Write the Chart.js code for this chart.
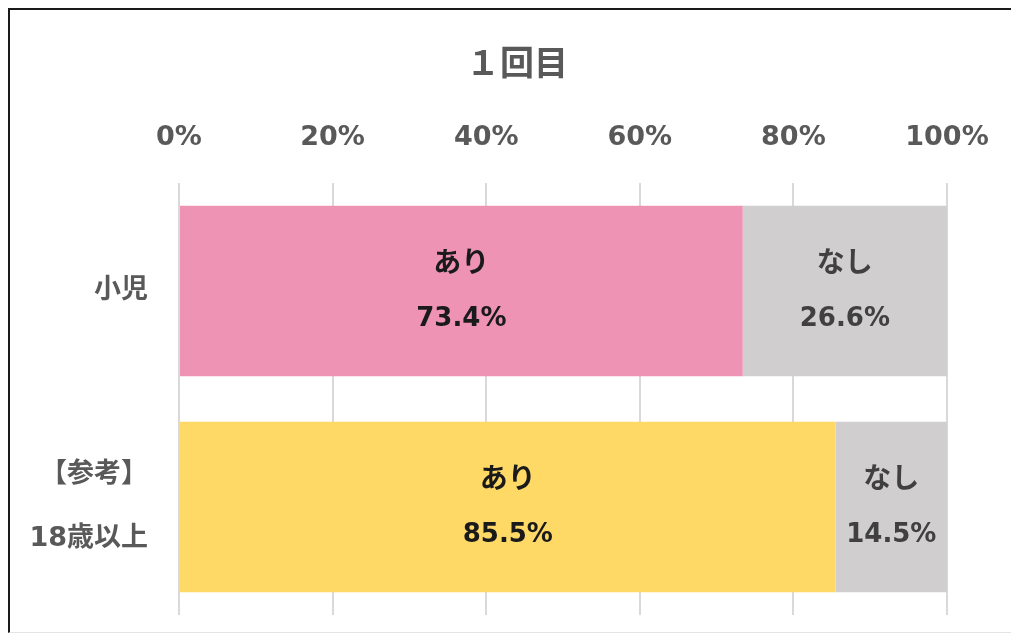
<!DOCTYPE html>
<html>
<head>
<meta charset="utf-8">
<script src="https://cdn.jsdelivr.net/npm/chart.js@4"></script>
<style>
  html, body { margin: 0; padding: 0; background: #fff; overflow: hidden; }
  #wrap { position: relative; width: 1011px; height: 638px; }
  #frame {
    position: absolute; left: 8px; top: 8px; width: 1100px; height: 622px;
    border-left: 2px solid #1a1a1a; border-top: 2px solid #1a1a1a;
    border-bottom: 1px solid #e4e4e4; pointer-events: none;
  }
</style>
</head>
<body>
<div id="wrap">
  <canvas id="chart" width="1011" height="638"></canvas>
  <div id="frame"></div>
</div>
<script>
//Data
const categories = [["小児"], ["【参考】", "18歳以上"]];
const ariValues = [73.4, 85.5];
const nashiValues = [26.6, 14.5];
const xTicks = [0, 20, 40, 60, 80, 100];
const seriesNames = ["あり", "なし"];

const FONT = "'DejaVu Sans', 'Noto Sans CJK JP', sans-serif";

//Two-line labels in the middle of each bar segment
const barLabels = {
  id: "barLabels",
  afterDatasetsDraw(chart) {
    const ctx = chart.ctx;
    ctx.save();
    ctx.textAlign = "center";
    ctx.textBaseline = "middle";
    chart.data.datasets.forEach((ds, di) => {
      const meta = chart.getDatasetMeta(di);
      meta.data.forEach((bar, i) => {
        const cx = (bar.x + bar.base) / 2;
        ctx.fillStyle = ds.labelColor;
        ctx.font = "bold 28px " + FONT;
        ctx.fillText(ds.label, cx, bar.y - 26);
        ctx.font = "bold 26px " + FONT;
        ctx.fillText(ds.data[i].toFixed(1) + "%", cx, bar.y + 28);
      });
    });
    ctx.restore();
  },
};

const ctx = document.getElementById("chart").getContext("2d");
const chart = new Chart(ctx, {
  type: "bar",
  data: {
    labels: categories,
    datasets: [
      {
        label: seriesNames[0],
        data: ariValues,
        backgroundColor: ["#EE93B4", "#FFD966"],
        labelColor: "#1a1a1a",
        barPercentage: 0.79,
        categoryPercentage: 1,
      },
      {
        label: seriesNames[1],
        data: nashiValues,
        backgroundColor: "#D0CECE",
        labelColor: "#404040",
        barPercentage: 0.79,
        categoryPercentage: 1,
      },
    ],
  },
  options: {
    indexAxis: "y",
    responsive: false,
    animation: false,
    layout: {
      padding: { left: 23, right: 0, top: 0, bottom: 23 },
    },
    plugins: {
      legend: { display: false },
      tooltip: { enabled: false },
      title: {
        display: true,
        text: "１回目",
        color: "#595959",
        font: { family: FONT, size: 34, weight: "bold" },
        padding: { top: 46, bottom: 0 },
      },
    },
    scales: {
      x: {
        position: "top",
        stacked: true,
        min: 0,
        max: 100,
        afterBuildTicks: (scale) => {
          scale.ticks = xTicks.map((v) => ({ value: v }));
        },
        afterFit: (scale) => {
          scale.height = 183 - 86.8;
          scale.paddingRight = 64;
        },
        border: { display: false },
        grid: { color: "#D9D9D9", lineWidth: 2, drawTicks: false },
        ticks: {
          padding: 29,
          color: "#595959",
          font: { family: FONT, size: 27, weight: "bold" },
          callback: (v) => v + "%",
        },
      },
      y: {
        stacked: true,
        afterFit: (scale) => {
          scale.width = 179 - 23;
          scale.paddingTop = 0;
          scale.paddingBottom = 0;
        },
        border: { display: false },
        grid: { display: false, drawTicks: false },
        ticks: {
          padding: 31,
          color: "#595959",
          font: { family: FONT, size: 27, weight: "bold", lineHeight: 2.35 },
        },
      },
    },
  },
  plugins: [barLabels],
});
</script>
</body>
</html>
